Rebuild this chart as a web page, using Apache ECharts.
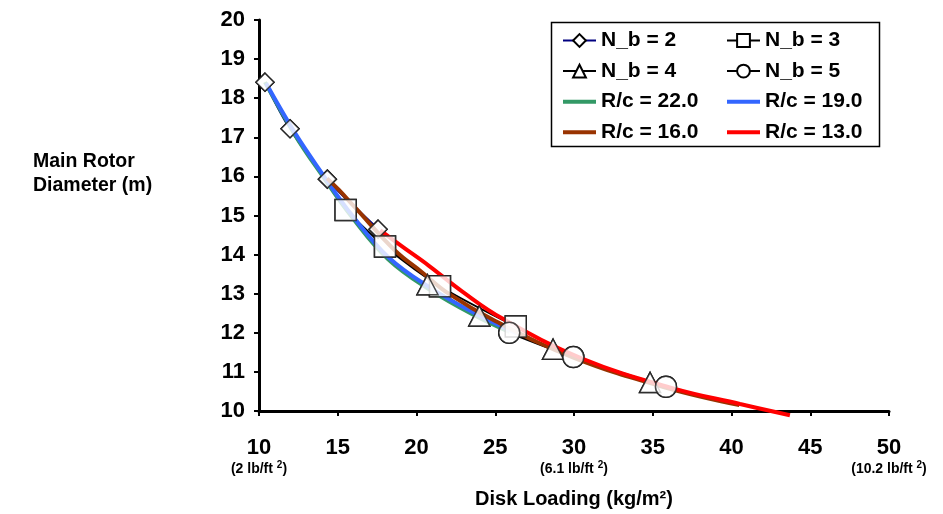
<!DOCTYPE html>
<html>
<head>
<meta charset="utf-8">
<script src="https://cdn.jsdelivr.net/npm/echarts@6/dist/echarts.min.js"></script>
<style>
html,body{margin:0;padding:0;background:#fff;}
#chart{width:943px;height:514px;}
</style>
</head>
<body>
<div id="chart"></div>
<script>
// ---- data (x = disk loading kg/m^2, y = main rotor diameter m) ----
var nb2 = [[10.38,18.41],[11.97,17.22],[14.34,15.93],[17.56,14.65]];
var nb3 = [[15.50,15.14],[18.00,14.21],[21.49,13.19],[26.30,12.16]];
var nb4 = [[20.70,13.23],[23.99,12.43],[28.67,11.58],[34.83,10.73]];
var nb5 = [[25.89,12.00],[29.96,11.38],[35.84,10.62]];

var rc22 = [[10.38,18.41],[12.3,17.05],[14.0,16.03],[15.9,14.96],[18.2,13.88],[20.8,13.11],[23.7,12.44],[25.9,12.02]];
var rc19 = [[10.45,18.38],[12.3,17.10],[14.0,16.08],[15.9,15.01],[18.2,13.94],[20.8,13.17],[23.7,12.50],[26.4,11.98]];
var rc16 = [[14.32,15.95],[15.06,15.66],[16.11,15.20],[18.65,14.10],[20.35,13.55],[22.04,13.00],[25.0,12.30],[30.0,11.36],[35.8,10.60],[40.5,10.15]];
var rc13 = [[17.7,14.62],[19.08,14.21],[20.77,13.72],[22.89,13.06],[25.43,12.37],[30.59,11.33],[36.3,10.58],[40.54,10.18],[43.71,9.89]];

var xTicks = [10,15,20,25,30,35,40,45,50];
var subTickValues = [10,30,50];
var subTickLabels = ['(2 lb/ft ','(6.1 lb/ft ','(10.2 lb/ft '];
var yTicks = [10,11,12,13,14,15,16,17,18,19,20];

var FONT = 'Liberation Sans, Arial, sans-serif';
var chart = echarts.init(document.getElementById('chart'));

function markerSeries(name, data, symbol, size, lineColor, lw){
  return [{
    name: name, type: 'line', data: data, smooth: 0.3, z: 2,
    symbol: symbol, symbolSize: size, showSymbol: true,
    lineStyle: {color: lineColor, width: lw},
    itemStyle: {color: '#fff', borderColor: '#000', borderWidth: 1.5},
    emphasis: {disabled: true}
  },{
    name: name + '_m', type: 'scatter', data: data, z: 6,
    symbol: symbol, symbolSize: size,
    itemStyle: {color: '#fff', borderColor: '#222', borderWidth: 1.5},
    emphasis: {disabled: true}
  }];
}
function rcSeries(name, data, color, clip){
  return {
    name: name, type: 'line', data: data, smooth: 0.4, z: 3,
    symbol: 'none', clip: clip,
    lineStyle: {color: color, width: 4},
    itemStyle: {color: color},
    emphasis: {disabled: true}
  };
}

var series = [].concat(
  markerSeries('N_b = 2', nb2, 'diamond', [18,18], '#000080', 2.5),
  markerSeries('N_b = 3', nb3, 'rect', [21,21], '#000', 2),
  markerSeries('N_b = 4', nb4, 'triangle', [21,20], '#000', 2),
  markerSeries('N_b = 5', nb5, 'circle', [21,21], '#000', 2),
  [rcSeries('R/c = 22.0', rc22, '#339966', true),
   rcSeries('R/c = 19.0', rc19, '#3366FF', true),
   rcSeries('R/c = 16.0', rc16, '#993300', true),
   rcSeries('R/c = 13.0', rc13, '#FF0000', false)]
);

var LINE_ICON = 'path://M0,0L33,0L33,4L0,4Z';
var legendCommon = {
  orient: 'vertical', top: 25, itemWidth: 33, itemHeight: 16, itemGap: 9.6, itemTextGap: 6,
  textStyle: {fontFamily: FONT, fontSize: 21, fontWeight: 'bold', color: '#000', lineHeight: 21},
  selectedMode: false
};

var option = {
  animation: false,
  backgroundColor: '#fff',
  grid: {left: 259, right: 54, top: 20, bottom: 96, containLabel: false},
  legend: [
    Object.assign({}, legendCommon, {left: 557, data: [
      {name: 'N_b = 2'}, {name: 'N_b = 4'},
      {name: 'R/c = 22.0', icon: LINE_ICON}, {name: 'R/c = 16.0', icon: LINE_ICON}]}),
    Object.assign({}, legendCommon, {left: 721, data: [
      {name: 'N_b = 3'}, {name: 'N_b = 5'},
      {name: 'R/c = 19.0', icon: LINE_ICON}, {name: 'R/c = 13.0', icon: LINE_ICON}]})
  ],
  xAxis: {
    type: 'value', min: 10, max: 50, interval: 5,
    axisLine: {show: true, onZero: false, lineStyle: {color: '#000', width: 3}},
    axisTick: {show: true, length: 5, lineStyle: {color: '#000', width: 2}},
    splitLine: {show: false},
    axisLabel: {
      margin: 26,
      formatter: function(v){
        var i = subTickValues.indexOf(v);
        if (i < 0) return '{a|' + v + '}\n{b| }';
        return '{a|' + v + '}\n{b|' + subTickLabels[i] + '}{sup|2}{b|)}';
      },
      rich: {
        a: {fontFamily: FONT, fontSize: 22, fontWeight: 'bold', color: '#000', lineHeight: 22},
        b: {fontFamily: FONT, fontSize: 14, fontWeight: 'bold', color: '#000', lineHeight: 20},
        sup: {fontFamily: FONT, fontSize: 10, fontWeight: 'bold', color: '#000', lineHeight: 20, verticalAlign: 'top', padding: [1,0,0,0]}
      }
    },
    name: 'Disk Loading (kg/m\u00B2)', nameLocation: 'middle', nameGap: 78,
    nameTextStyle: {fontFamily: FONT, fontSize: 20, fontWeight: 'bold', color: '#000'}
  },
  yAxis: {
    type: 'value', min: 10, max: 20, interval: 1,
    axisLine: {show: true, onZero: false, lineStyle: {color: '#000', width: 3}},
    axisTick: {show: true, length: 5, lineStyle: {color: '#000', width: 2}},
    splitLine: {show: false},
    axisLabel: {margin: 14, fontFamily: FONT, fontSize: 22, fontWeight: 'bold', color: '#000'}
  },
  graphic: [
    {type: 'rect', z: 10, silent: true,
     shape: {x: 551.5, y: 22.5, width: 328, height: 124},
     style: {fill: 'none', stroke: '#000', lineWidth: 1.5}},
    {type: 'text', left: 33, top: 150, z: 10, silent: true,
     style: {text: 'Main Rotor\nDiameter (m)', font: 'bold 19.5px ' + FONT, fill: '#000', lineHeight: 24}}
  ],
  series: series
};
chart.setOption(option);
</script>
</body>
</html>
